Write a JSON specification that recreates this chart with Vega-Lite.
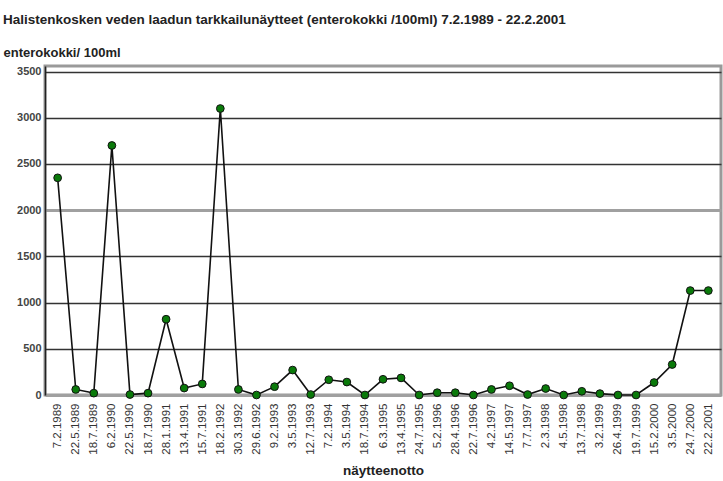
{
  "$schema": "https://vega.github.io/schema/vega-lite/v6.json",
  "autosize": "none",
  "width": 676,
  "height": 329,
  "padding": {"left": 45, "top": 66, "right": 2, "bottom": 86},
  "background": "white",
  "title": {
    "text": "Halistenkosken veden laadun tarkkailunäytteet (enterokokki /100ml) 7.2.1989 - 22.2.2001",
    "anchor": "start",
    "frame": "group",
    "dx": -42,
    "offset": 20,
    "font": "Liberation Sans",
    "fontSize": 13.5,
    "fontWeight": "bold",
    "color": "#222"
  },
  "config": {
    "view": {"stroke": "#9a9a9a", "strokeWidth": 3},
    "axis": {"labelFont": "Liberation Sans", "titleFont": "Liberation Sans"}
  },
  "data": {
    "values": [
      {"date": "7.2.1989", "v": 2350},
      {"date": "22.5.1989", "v": 60},
      {"date": "18.7.1989", "v": 20},
      {"date": "6.2.1990", "v": 2700},
      {"date": "22.5.1990", "v": 5},
      {"date": "18.7.1990", "v": 20},
      {"date": "28.1.1991", "v": 820},
      {"date": "13.4.1991", "v": 75},
      {"date": "15.7.1991", "v": 120},
      {"date": "18.2.1992", "v": 3100},
      {"date": "30.3.1992", "v": 60},
      {"date": "29.6.1992", "v": 0},
      {"date": "9.2.1993", "v": 90},
      {"date": "3.5.1993", "v": 270},
      {"date": "12.7.1993", "v": 5},
      {"date": "7.2.1994", "v": 165},
      {"date": "3.5.1994", "v": 140},
      {"date": "18.7.1994", "v": 0},
      {"date": "6.3.1995", "v": 170},
      {"date": "13.4.1995", "v": 185},
      {"date": "24.7.1995", "v": 0},
      {"date": "5.2.1996", "v": 25},
      {"date": "28.4.1996", "v": 25},
      {"date": "22.7.1996", "v": 0},
      {"date": "4.2.1997", "v": 60},
      {"date": "14.5.1997", "v": 100},
      {"date": "7.7.1997", "v": 5},
      {"date": "2.3.1998", "v": 70},
      {"date": "4.5.1998", "v": 0},
      {"date": "13.7.1998", "v": 40},
      {"date": "3.2.1999", "v": 15},
      {"date": "26.4.1999", "v": 0},
      {"date": "19.7.1999", "v": 0},
      {"date": "15.2.2000", "v": 135},
      {"date": "3.5.2000", "v": 330},
      {"date": "24.7.2000", "v": 1130},
      {"date": "22.2.2001", "v": 1130}
    ]
  },
  "encoding": {
    "x": {
      "field": "date",
      "type": "ordinal",
      "sort": null,
      "scale": {"type": "point", "padding": 0.7},
      "axis": {
        "title": "näytteenotto",
        "titleFontSize": 13.5,
        "titleFontWeight": "bold",
        "titleColor": "#222",
        "titlePadding": 9,
        "labelAngle": -90,
        "labelFontSize": 11.5,
        "labelColor": "#333",
        "labelPadding": 8,
        "ticks": false,
        "domain": false,
        "grid": false
      }
    },
    "y": {
      "field": "v",
      "type": "quantitative",
      "scale": {"domain": [0, 3560], "nice": false, "clamp": false},
      "axis": {
        "values": [0, 500, 1000, 1500, 2000, 2500, 3000, 3500],
        "format": "d",
        "title": "enterokokki/ 100ml",
        "titleAngle": 0,
        "titleAlign": "left",
        "titleBaseline": "middle",
        "titleX": -42,
        "titleY": -14,
        "titleFontSize": 13,
        "titleFontWeight": "bold",
        "titleColor": "#222",
        "labelFontSize": 11,
        "labelFontWeight": "bold",
        "labelColor": "#444",
        "labelPadding": 4,
        "ticks": false,
        "domain": true,
        "domainColor": "#222",
        "domainWidth": 1.5,
        "grid": true,
        "gridColor": {"condition": {"test": "datum.value === 2000 || datum.value === 0", "value": "#a0a0a0"}, "value": "#333"},
        "gridWidth": {"condition": {"test": "datum.value === 2000 || datum.value === 0", "value": 3}, "value": 1.5}
      }
    }
  },
  "layer": [
    {"mark": {"type": "line", "color": "#111", "strokeWidth": 1.6}},
    {"mark": {"type": "point", "filled": true, "color": "#0a7a0a", "stroke": "#111", "strokeWidth": 1, "size": 60, "opacity": 1}}
  ]
}
